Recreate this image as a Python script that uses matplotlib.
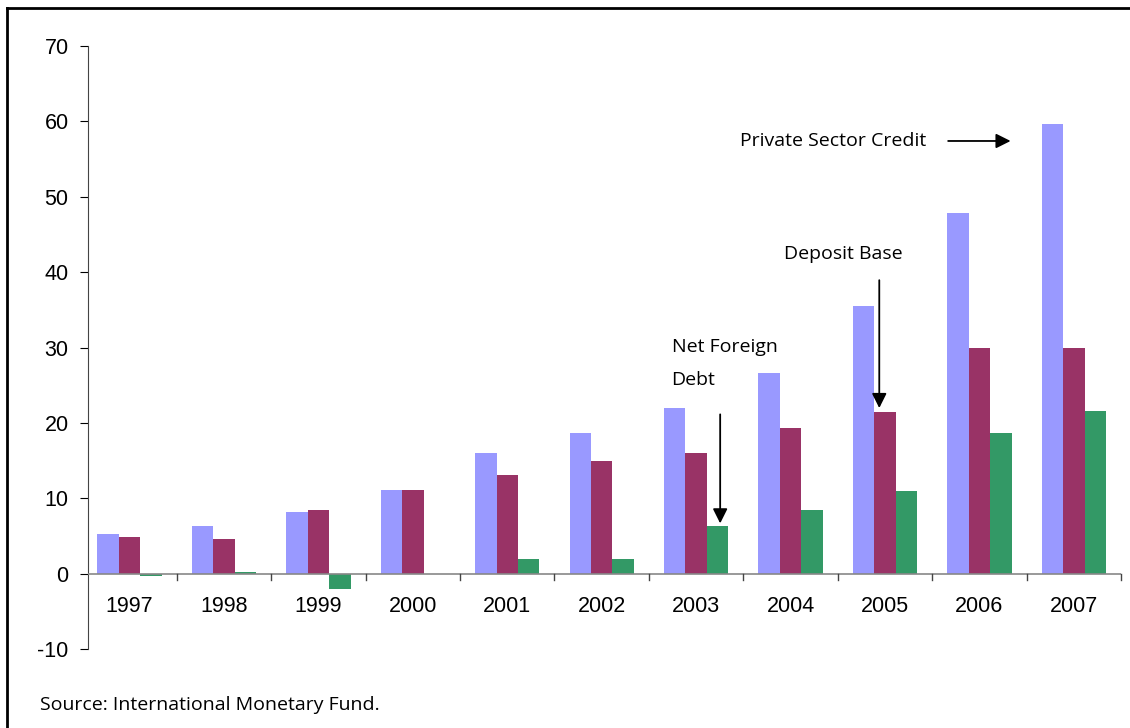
import matplotlib.pyplot as plt
import numpy as np

plt.rcParams['axes.unicode_minus'] = False

# data
years = ['1997', '1998', '1999', '2000', '2001', '2002', '2003', '2004', '2005', '2006', '2007']
private_credit = [5.3, 6.3, 8.2, 11.1, 16.0, 18.7, 22.0, 26.6, 35.5, 47.8, 59.6]
deposit_base = [4.9, 4.6, 8.5, 11.1, 13.1, 15.0, 16.0, 19.3, 21.5, 30.0, 30.0]
net_foreign_debt = [-0.3, 0.2, -2.0, 0.0, 2.0, 2.0, 6.3, 8.5, 10.9, 18.7, 21.6]

fig = plt.figure(figsize=(11.3, 7.28), dpi=100)
ax = fig.add_axes([88 / 1130, 0.1085, 1033 / 1130, 0.8283])

x = np.arange(len(years))
w = 0.227
ax.bar(x - w, private_credit, w, color='#9999FF')
ax.bar(x, deposit_base, w, color='#993366')
ax.bar(x + w, net_foreign_debt, w, color='#339966')

ax.set_xlim(-0.44, len(years) - 0.5)
ax.set_ylim(-10, 70)
ax.set_yticks(range(-10, 71, 10))
ax.tick_params(axis='y', labelsize=15.5, length=6, width=0.8, pad=8,
               labelfontfamily='Liberation Sans')

# x axis drawn at zero
for s in ['top', 'right', 'bottom']:
    ax.spines[s].set_visible(False)
ax.spines['left'].set_color('#444444')
ax.axhline(0, color='#888888', lw=1.2, zorder=3)
ax.set_xticks([])
for b in np.arange(0.5, len(years), 1.0):
    ax.plot([b, b], [0, -0.9], color='#444444', lw=1, clip_on=False, zorder=3)
for xi, yr in zip(x, years):
    ax.text(xi, -4.4, yr, ha='center', va='center', fontsize=15.5,
            family='Liberation Sans')

# annotations
af = 'Open Sans'
fs = 14
arrow = dict(arrowstyle='-|>', color='black', lw=1.3, mutation_scale=22)
ax.text(6.46, 57.4, 'Private Sector Credit', fontsize=fs, family=af, va='center')
ax.annotate('', xy=(9.36, 57.4), xytext=(8.64, 57.4), arrowprops=arrow)
ax.text(7.56, 42.4, 'Deposit Base', fontsize=fs, family=af, va='center', ha='center')
ax.annotate('', xy=(7.94, 21.6), xytext=(7.94, 39.3), arrowprops=arrow)
ax.text(5.74, 30.1, 'Net Foreign', fontsize=fs, family=af, va='center')
ax.text(5.74, 25.7, 'Debt', fontsize=fs, family=af, va='center')
ax.annotate('', xy=(6.255, 6.3), xytext=(6.255, 21.5), arrowprops=arrow)

fig.text(40 / 1130, 1 - 705 / 728, 'Source: International Monetary Fund.',
         fontsize=14, family=af, va='center')

# outer frame (left and top edges visible)
fig.add_artist(plt.Line2D([7 / 1130, 7 / 1130], [0, 1 - 8 / 728], color='black', lw=2,
                          transform=fig.transFigure))
fig.add_artist(plt.Line2D([7 / 1130, 1], [1 - 8 / 728, 1 - 8 / 728], color='black', lw=2,
                          transform=fig.transFigure))

fig.savefig('out.png', dpi=100)
